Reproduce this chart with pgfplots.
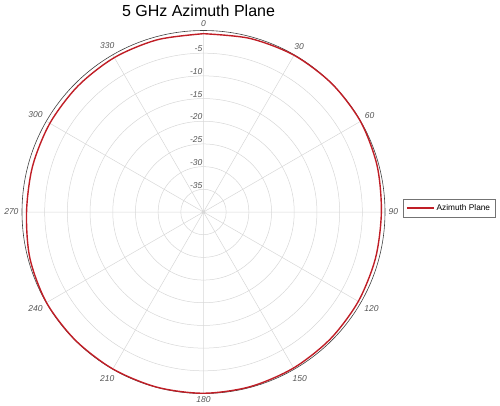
\documentclass[border=0pt]{standalone}
\usepackage{fontspec}
\setmainfont{Liberation Sans}
\usepackage{pgfplots}
\pgfplotsset{compat=1.18}
\usepgfplotslibrary{polar}
\usepackage{pgfplotstable}
\definecolor{curvered}{RGB}{192,30,38}
\definecolor{gridgray}{RGB}{215,215,215}
\definecolor{labgray}{RGB}{85,85,85}

\pgfplotstableread{
ang gain
0 -0.7
15 -0.4
30 -0.1
45 0
60 -0.05
75 -0.4
90 -0.8
105 -0.75
120 -0.6
135 -0.45
150 -0.3
165 -0.15
180 -0.05
195 -0.05
210 -0.05
225 -0.05
240 -0.05
255 -0.4
270 -1.0
285 -1.0
300 -0.9
315 -0.8
330 -0.7
345 -0.7
360 -0.7
}\azdata

\begin{document}
\begin{tikzpicture}
\begin{polaraxis}[
  scale only axis, width=363pt, height=363pt,
  xmin=0, xmax=360, ymin=0, ymax=40,
  xtick={0,30,...,330},
  xticklabels={90,60,30,0,330,300,270,240,210,180,150,120},
  xticklabel style={font=\fontsize{8.5}{10}\selectfont\itshape, text=labgray},
  ytick={5,10,...,35},
  yticklabels={},
  grid=major,
  major grid style={gridgray, line width=0.5pt},
  separate axis lines,
  x axis line style={black!75, line width=0.6pt},
  y axis line style={draw=none},
  major tick length=0pt,
  clip=false,
  legend style={at={(1,0.5)}, anchor=west, xshift=18pt, yshift=4pt,
    draw=black!55, line width=0.4pt, font=\fontsize{8.3}{10}\selectfont,
    inner xsep=3pt, inner ysep=3.5pt},
  legend image code/.code={\draw[#1] (0pt,0pt) -- (27pt,0pt);},
]
\addplot[curvered, line width=1.4pt, no markers, smooth] table[x expr={90-\thisrow{ang}}, y expr={\thisrow{gain}+40}] {\azdata};
\addlegendentry{Azimuth Plane}
\node[anchor=south east, inner sep=1pt, font=\fontsize{8.5}{10}\selectfont\itshape, text=labgray] at (axis cs:90,35) {-5};
\node[anchor=south east, inner sep=1pt, font=\fontsize{8.5}{10}\selectfont\itshape, text=labgray] at (axis cs:90,30) {-10};
\node[anchor=south east, inner sep=1pt, font=\fontsize{8.5}{10}\selectfont\itshape, text=labgray] at (axis cs:90,25) {-15};
\node[anchor=south east, inner sep=1pt, font=\fontsize{8.5}{10}\selectfont\itshape, text=labgray] at (axis cs:90,20) {-20};
\node[anchor=south east, inner sep=1pt, font=\fontsize{8.5}{10}\selectfont\itshape, text=labgray] at (axis cs:90,15) {-25};
\node[anchor=south east, inner sep=1pt, font=\fontsize{8.5}{10}\selectfont\itshape, text=labgray] at (axis cs:90,10) {-30};
\node[anchor=south east, inner sep=1pt, font=\fontsize{8.5}{10}\selectfont\itshape, text=labgray] at (axis cs:90,5) {-35};
\coordinate (c) at (axis cs:0,0);
\end{polaraxis}
\path (c) ++(-5pt,195pt) node[anchor=base, font=\fontsize{16}{19}\selectfont] {5 GHz Azimuth Plane};
\pgfresetboundingbox
\path[use as bounding box] (c) ++(-203.5pt,212pt) rectangle ++(500pt,-405pt);
\end{tikzpicture}
\end{document}
